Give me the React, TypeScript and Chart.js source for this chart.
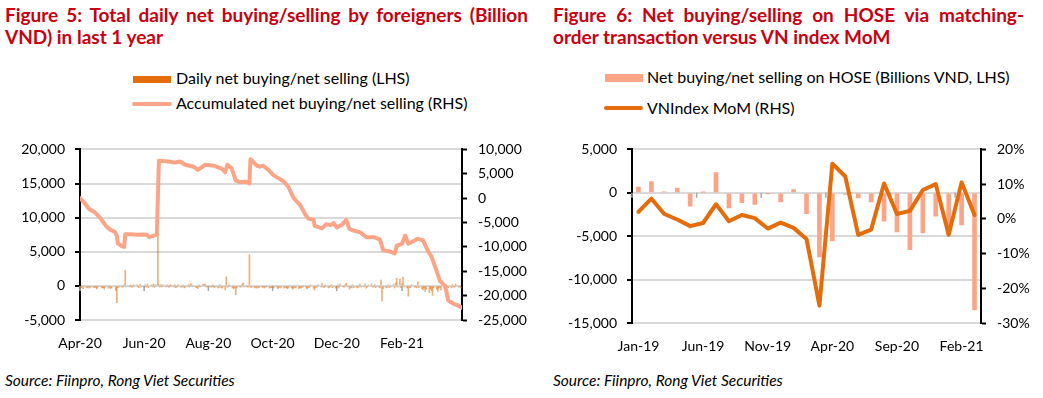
import React, { useEffect, useRef } from 'react';
import { Chart, registerables } from 'chart.js';

Chart.register(...registerables);

// ---------- Figure 5 data (daily, x = days since 1 Apr 2020) ----------
const leftTickDays = [0, 61, 122, 183, 244, 306];
const leftTickLabels = ['Apr-20', 'Jun-20', 'Aug-20', 'Oct-20', 'Dec-20', 'Feb-21'];

const accDays = [0, 4, 9, 14, 19, 25, 29, 33, 35, 36, 40, 42, 43, 48, 54, 60, 63, 66, 70, 73, 75, 82, 90, 95, 100, 108, 112, 119, 127, 135, 138, 140, 144, 148, 152, 158, 161, 162, 168, 171, 174, 179, 184, 193, 198, 203, 209, 214, 217, 222, 223, 230, 234, 238, 241, 244, 249, 253, 256, 260, 266, 272, 279, 285, 288, 295, 299, 301, 306, 309, 312, 321, 326, 331, 334, 339, 342, 347, 350, 355, 359, 363];
const accValues = [0, -900, -2300, -2900, -4000, -5800, -6500, -6900, -7700, -9300, -9900, -10000, -7400, -7400, -7500, -7450, -7500, -8000, -7700, -7500, 7660, 7550, 7300, 7500, 6850, 6450, 5800, 6850, 6650, 6000, 5300, 6850, 6150, 3660, 3300, 3350, 3000, 8000, 6650, 6450, 6650, 5800, 4670, 3530, 2330, 0, -1330, -3330, -4200, -4470, -5670, -6200, -5340, -5540, -5140, -6000, -5470, -4470, -6300, -6670, -7000, -8000, -8000, -8470, -10670, -11000, -11340, -9800, -9340, -7670, -9340, -8340, -8670, -11000, -12000, -15000, -17000, -18000, -21000, -21670, -22000, -22470];

const barDays = [1, 2, 3, 6, 7, 8, 9, 10, 13, 14, 15, 16, 17, 20, 21, 22, 23, 24, 27, 28, 29, 30, 34, 35, 36, 37, 40, 41, 42, 43, 44, 47, 48, 49, 50, 51, 54, 55, 56, 57, 58, 61, 62, 63, 64, 65, 68, 69, 70, 71, 72, 74, 75, 76, 77, 78, 79, 82, 83, 84, 85, 86, 89, 90, 91, 92, 93, 96, 97, 98, 99, 100, 103, 104, 105, 106, 107, 110, 111, 112, 113, 114, 117, 118, 119, 120, 121, 124, 125, 126, 127, 128, 131, 132, 133, 134, 135, 138, 139, 140, 141, 142, 145, 146, 147, 148, 149, 152, 153, 154, 155, 156, 159, 160, 161, 162, 163, 166, 167, 168, 169, 170, 173, 174, 175, 176, 177, 180, 181, 182, 183, 184, 187, 188, 189, 190, 191, 194, 195, 196, 197, 198, 201, 202, 203, 204, 205, 208, 209, 210, 211, 212, 215, 216, 217, 218, 219, 222, 223, 224, 225, 226, 229, 230, 231, 232, 233, 236, 237, 238, 239, 240, 243, 244, 245, 246, 247, 250, 251, 252, 253, 254, 256, 257, 258, 259, 260, 263, 264, 265, 266, 267, 270, 271, 272, 273, 274, 277, 278, 279, 280, 281, 284, 285, 286, 287, 288, 291, 292, 293, 294, 295, 298, 299, 300, 301, 302, 304, 305, 306, 307, 308, 311, 312, 313, 314, 315, 318, 319, 320, 321, 322, 325, 326, 327, 328, 329, 332, 333, 334, 335, 336, 339, 340, 341, 342, 343, 346, 347, 348, 349, 350, 353, 354, 355, 356, 357, 360, 361, 362];
const barValues = [-250, -150, -400, -200, -300, -150, -350, -200, -250, -100, -300, -450, -200, -150, -300, -250, -500, -200, -350, -150, -400, -250, -700, -2450, -300, -150, -200, -100, 150, 2260, -150, -100, 120, -200, -150, 100, 150, -100, -250, 200, -150, -100, 150, -200, 300, -250, 120, -150, 250, -180, 100, 7700, 150, -120, 200, -100, 150, -150, 100, -200, -120, 80, -100, 120, -250, -150, 100, -180, -120, 150, -300, -200, 120, -100, 300, 200, -150, -180, -250, -400, 150, -120, 200, 100, 250, -150, -100, -200, -150, 100, -120, -250, -180, -300, 150, -200, -350, -600, 1320, -200, -150, 100, -300, -450, -200, -1270, -300, -150, -100, 200, 400, -150, -120, -200, 4600, -150, -250, -300, -200, -350, -150, -250, -180, -120, -300, -200, -100, -350, -200, -250, -150, -300, -200, -400, -250, -150, -300, -350, -200, -250, -400, -300, -250, -500, -350, -200, -300, -400, -250, -350, -200, -150, -300, -450, -200, -250, 150, -350, -600, -200, -150, 100, -200, 350, -150, -250, 120, -300, -200, -150, 200, -250, -350, -200, 150, -300, 250, -150, -200, 120, 400, -150, -500, -200, -300, 150, -250, -300, -200, -150, 250, -200, -150, 300, -350, -200, 150, 300, -200, -150, 200, -250, -150, -300, 850, -2200, -400, -300, -200, 150, -250, -150, 200, -300, 400, 1100, -200, 1000, -250, 300, 1300, -150, -300, -1500, -200, -250, 150, -200, -150, -300, 600, -250, -400, -600, -300, -800, -500, -1000, -400, -700, -1400, -300, -500, -800, -300, -200, -600, -300, -400, -200, -150, -250, -300, 200, -200, -150, 250, -200, -150, -300];

// ---------- Figure 6 data (monthly) ----------
const months = ['Jan-19', 'Feb-19', 'Mar-19', 'Apr-19', 'May-19', 'Jun-19', 'Jul-19', 'Aug-19', 'Sep-19', 'Oct-19', 'Nov-19', 'Dec-19', 'Jan-20', 'Feb-20', 'Mar-20', 'Apr-20', 'May-20', 'Jun-20', 'Jul-20', 'Aug-20', 'Sep-20', 'Oct-20', 'Nov-20', 'Dec-20', 'Jan-21', 'Feb-21', 'Mar-21'];
const monthTickLabels = ['Jan-19', 'Jun-19', 'Nov-19', 'Apr-20', 'Sep-20', 'Feb-21'];
const hoseNet = [670, 1300, 100, 550, -1550, 50, 2330, -1740, -1150, -1330, -70, -1040, 370, -2400, -7400, -5550, -200, -600, -1040, -3260, -4500, -6550, -4630, -2700, -4800, -3700, -13500];
const vnMoM = [2.0, 5.8, 1.4, -0.2, -2.1, -1.2, 4.2, -0.7, 1.1, 0.2, -2.8, -1.1, -2.6, -5.8, -25.0, 15.9, 12.2, -4.6, -3.1, 10.2, 1.4, 2.3, 8.3, 10.0, -4.6, 10.5, 1.1];

const RED = '#C8000F';
const DARK_ORANGE = '#E46C0A';
const SALMON = '#FBA487';
const GRID = '#D9D9D9';

const fmt = (v: any) => Number(v).toLocaleString('en-US');

function zeroTickPlugin(yId: string, positions: () => number[]) {
  return {
    id: 'zeroTicks',
    beforeDatasetsDraw(chart: any) {
      const x = chart.scales.x;
      const y = chart.scales[yId];
      const y0 = y.getPixelForValue(0);
      const ctx = chart.ctx;
      ctx.save();
      ctx.strokeStyle = '#A6A6A6';
      ctx.lineWidth = 1.5;
      positions().forEach((v) => {
        const px = x.getPixelForValue(v);
        ctx.beginPath();
        ctx.moveTo(px, y0);
        ctx.lineTo(px, y0 + 5);
        ctx.stroke();
      });
      ctx.restore();
    },
  };
}

const yAxisBase = (width: number) => ({
  grid: { color: GRID, lineWidth: 2, tickColor: '#000', tickLength: 5, tickWidth: 2 },
  border: { color: '#000', width: 2 },
  afterFit: (s: any) => { s.width = width; },
});

export default function App() {
  const leftRef = useRef<HTMLCanvasElement>(null);
  const rightRef = useRef<HTMLCanvasElement>(null);

  useEffect(() => {
    Chart.defaults.font.family = 'Lato, sans-serif';
    Chart.defaults.font.size = 14;
    Chart.defaults.color = '#000';

    const left = new Chart(leftRef.current as HTMLCanvasElement, {
      type: 'bar',
      data: {
        datasets: [
          {
            type: 'line',
            label: 'Accumulated net buying/net selling (RHS)',
            data: accDays.map((d, i) => ({ x: d, y: accValues[i] })),
            yAxisID: 'y1',
            borderColor: SALMON,
            backgroundColor: SALMON,
            borderWidth: 4,
            pointRadius: 0,
            tension: 0,
            borderJoinStyle: 'round',
            borderCapStyle: 'round',
            order: 0,
          } as any,
          {
            type: 'bar',
            label: 'Daily net buying/net selling (LHS)',
            data: barDays.map((d, i) => ({ x: d, y: barValues[i] })),
            yAxisID: 'y',
            backgroundColor: 'rgba(228,108,10,0.55)',
            barThickness: 1,
            order: 1,
          } as any,
        ],
      },
      options: {
        responsive: false,
        animation: false,
        devicePixelRatio: 1,
        layout: { padding: { top: 13, left: 0, right: 0, bottom: 0 } },
        plugins: { legend: { display: false }, tooltip: { enabled: false } },
        scales: {
          x: {
            type: 'linear',
            min: 0,
            max: 363,
            offset: false,
            grid: { display: false, drawTicks: false, offset: false },
            border: { display: false },
            afterBuildTicks: (s: any) => { s.ticks = leftTickDays.map((v) => ({ value: v })); },
            ticks: {
              autoSkip: false,
              maxRotation: 0,
              minRotation: 0,
              padding: 15,
              callback: (_v: any, i: number) => leftTickLabels[i],
            },
            afterFit: (s: any) => { s.height = 40; },
          },
          y: {
            ...yAxisBase(80),
            position: 'left',
            min: -5000,
            max: 20000,
            ticks: { padding: 10, stepSize: 5000, callback: fmt },
          },
          y1: {
            ...yAxisBase(83),
            position: 'right',
            min: -25000,
            max: 10000,
            grid: { drawOnChartArea: false, tickColor: '#000', tickLength: 5, tickWidth: 2 },
            ticks: { padding: 11, stepSize: 5000, callback: fmt },
          },
        } as any,
      },
      plugins: [zeroTickPlugin('y', () => leftTickDays)],
    });

    const right = new Chart(rightRef.current as HTMLCanvasElement, {
      type: 'bar',
      data: {
        labels: months,
        datasets: [
          {
            type: 'line',
            label: 'VNIndex MoM (RHS)',
            data: vnMoM,
            yAxisID: 'y1',
            borderColor: DARK_ORANGE,
            backgroundColor: DARK_ORANGE,
            borderWidth: 4,
            pointRadius: 0,
            tension: 0,
            borderJoinStyle: 'round',
            borderCapStyle: 'round',
            order: 0,
          } as any,
          {
            type: 'bar',
            label: 'Net buying/net selling on HOSE (Billions VND, LHS)',
            data: hoseNet,
            yAxisID: 'y',
            backgroundColor: SALMON,
            barThickness: 4,
            order: 1,
          } as any,
        ],
      },
      options: {
        responsive: false,
        animation: false,
        devicePixelRatio: 1,
        layout: { padding: { top: 13, left: 0, right: 0, bottom: 0 } },
        plugins: { legend: { display: false }, tooltip: { enabled: false } },
        scales: {
          x: {
            offset: true,
            grid: { display: false, drawTicks: false },
            border: { display: false },
            ticks: {
              autoSkip: false,
              maxRotation: 0,
              minRotation: 0,
              padding: 15,
              callback: (_v: any, i: number) => (monthTickLabels.includes(months[i]) ? months[i] : ''),
            },
            afterFit: (s: any) => { s.height = 40; },
          },
          y: {
            ...yAxisBase(87),
            position: 'left',
            min: -15000,
            max: 5000,
            ticks: { padding: 10, stepSize: 5000, callback: fmt },
          },
          y1: {
            ...yAxisBase(62),
            position: 'right',
            min: -30,
            max: 20,
            grid: { drawOnChartArea: false, tickColor: '#000', tickLength: 5, tickWidth: 2 },
            ticks: { padding: 11, stepSize: 10, callback: (v: any) => `${v}%` },
          },
        } as any,
      },
      plugins: [zeroTickPlugin('y', () => monthTickLabels.map((l) => months.indexOf(l) - 0.5))],
    });

    return () => {
      left.destroy();
      right.destroy();
    };
  }, []);

  const titleStyle: React.CSSProperties = {
    position: 'absolute',
    fontFamily: 'Lato, sans-serif',
    fontWeight: 700,
    fontSize: 19,
    lineHeight: '22px',
    color: RED,
    whiteSpace: 'nowrap',
  };
  const legendText: React.CSSProperties = {
    position: 'absolute',
    fontFamily: 'Lato, sans-serif',
    fontSize: 16,
    lineHeight: '20px',
    color: '#000',
    whiteSpace: 'nowrap',
  };
  const sourceStyle: React.CSSProperties = {
    position: 'absolute',
    top: 371,
    fontFamily: 'Lato, sans-serif',
    fontStyle: 'italic',
    fontSize: 15.5,
    lineHeight: '18px',
    color: '#000',
    whiteSpace: 'nowrap',
  };

  return (
    <div style={{ position: 'absolute', left: 0, top: 0, width: 1043, height: 398, background: '#fff', overflow: 'hidden' }}>
      {/* Figure 5 title */}
      <div style={{ ...titleStyle, left: 5, top: 4, width: 523, textAlign: 'justify', textAlignLast: 'justify' }}>
        Figure 5: Total daily net buying/selling by foreigners (Billion
      </div>
      <div style={{ ...titleStyle, left: 5, top: 26 }}>VND) in last 1 year</div>

      {/* Figure 5 legend */}
      <div style={{ position: 'absolute', left: 133, top: 76, width: 38, height: 7, background: DARK_ORANGE }} />
      <div style={{ ...legendText, left: 176, top: 68 }}>Daily net buying/net selling (LHS)</div>
      <div style={{ position: 'absolute', left: 132, top: 102, width: 40, height: 4, borderRadius: 2, background: SALMON }} />
      <div style={{ ...legendText, left: 176, top: 93 }}>Accumulated net buying/net selling (RHS)</div>

      {/* Figure 6 title */}
      <div style={{ ...titleStyle, left: 553, top: 4, width: 471, textAlign: 'justify', textAlignLast: 'justify' }}>
        Figure 6: Net buying/selling on HOSE via matching-
      </div>
      <div style={{ ...titleStyle, left: 553, top: 26 }}>order transaction versus VN index MoM</div>

      {/* Figure 6 legend */}
      <div style={{ position: 'absolute', left: 605, top: 74, width: 38, height: 8, background: SALMON }} />
      <div style={{ ...legendText, left: 647, top: 67 }}>Net buying/net selling on HOSE (Billions VND, LHS)</div>
      <div style={{ position: 'absolute', left: 604, top: 106, width: 39, height: 4, borderRadius: 2, background: DARK_ORANGE }} />
      <div style={{ ...legendText, left: 647, top: 98 }}>VNIndex MoM (RHS)</div>

      <canvas ref={leftRef} width={545} height={230} style={{ position: 'absolute', left: 0, top: 130 }} />
      <canvas ref={rightRef} width={498} height={233} style={{ position: 'absolute', left: 545, top: 130 }} />

      <div style={{ ...sourceStyle, left: 5 }}>Source: Fiinpro, Rong Viet Securities</div>
      <div style={{ ...sourceStyle, left: 553 }}>Source: Fiinpro, Rong Viet Securities</div>
    </div>
  );
}
